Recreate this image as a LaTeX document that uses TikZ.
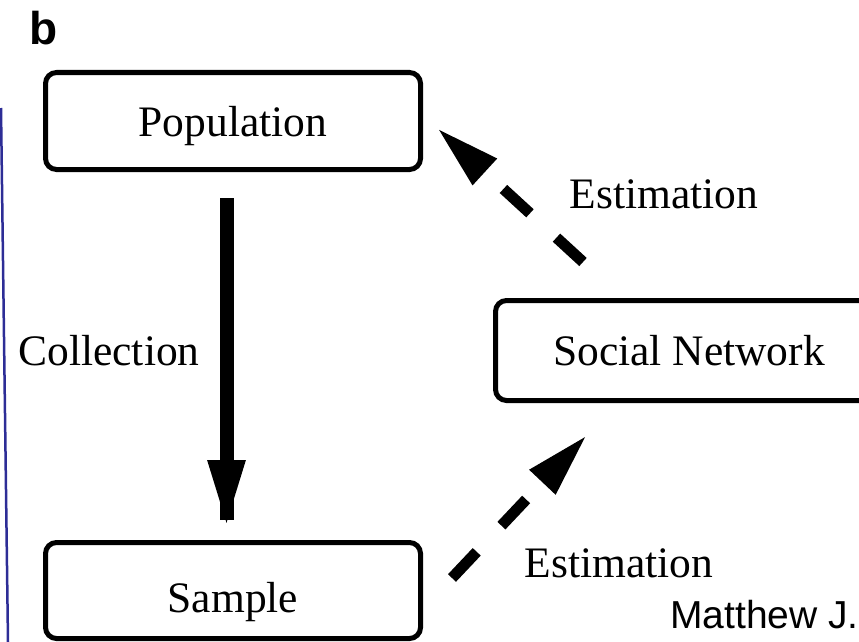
\documentclass[tikz,border=0pt]{standalone}
\usepackage{fontspec}
\setmainfont{Liberation Serif}
\newfontfamily\arialfont{Liberation Sans}
\usetikzlibrary{arrows.meta,calc}
\definecolor{edgeblue}{RGB}{45,45,150}
\begin{document}
\begin{tikzpicture}[x=1pt,y=-1pt,
  box/.style={draw, line width=5pt, rounded corners=11pt, inner sep=0pt, text depth=0pt,
              font=\fontsize{43.5}{50}\selectfont},
  lbl/.style={font=\fontsize{43.5}{50}\selectfont, anchor=base, inner sep=0pt},
  solidarrow/.style={line width=14pt, -{Triangle[length=68pt,width=34pt]}},
  dasharrow/.style={line width=11pt, dash pattern=on 36pt off 36pt, -{Triangle[length=65pt,width=33pt]}}]
\useasboundingbox (0,0) rectangle (859,642);
\clip (0,0) rectangle (859,642);

% left blue edge
\draw[edgeblue, line width=2.5pt] (1,108) -- (8,642);

% panel letter
\node[anchor=base west, inner sep=0pt, font=\arialfont\bfseries\fontsize{46}{50}\selectfont] (b) at (29,45) {b};

% boxes
\node[box, minimum width=375pt, minimum height=97pt, text height=30pt] (pop) at (233,121) {Population};
\node[box, minimum width=375pt, minimum height=96pt, text height=43pt] (sample) at (233,590.5) {Sample};
\node[box, minimum width=387pt, minimum height=100pt, text height=29pt] (sn) at (689,350.5) {Social Network};

% solid collection arrow (shaft runs on under the head, as in the reference)
\coordinate (cs) at ($(pop.south)+(-6.5,26)$);
\coordinate (ct) at ($(sample.north)+(-6.5,-12)$);
\draw[solidarrow] (cs) -- (ct);
\draw[line width=14pt] (cs) -- ($(ct)+(0,-8)$);

% dashed estimation arrows
\coordinate (u1) at (583,262);
\coordinate (u2) at (437,128);
\coordinate (l1) at (452,578);
\coordinate (l2) at (587,435);
\draw[dasharrow] (u1) -- (u2);
\draw[dasharrow] (l1) -- (l2);

% labels
\node[lbl] (coll) at (109,365) {Collection};
\node[lbl] (est1) at (664,208) {Estimation};
\node[lbl] (est2) at (619,577) {Estimation};
\node[anchor=base west, inner sep=0pt, font=\arialfont\fontsize{39}{45}\selectfont] (auth) at (670,628) {Matthew J.};
\end{tikzpicture}
\end{document}
